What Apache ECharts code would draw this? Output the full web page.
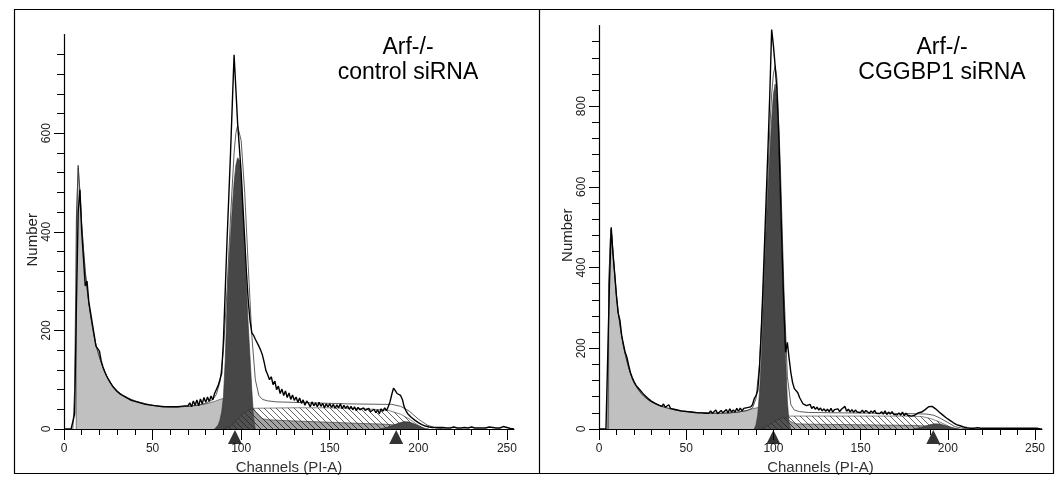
<!DOCTYPE html>
<html>
<head>
<meta charset="utf-8">
<script src="https://cdn.jsdelivr.net/npm/echarts@6/dist/echarts.min.js"></script>
<style>
  html, body { margin: 0; padding: 0; background: #fff; }
  #chart { width: 1064px; height: 483px; }
</style>
</head>
<body>
<div id="chart"></div>
<script>
// ---- tick labels ----
const xTickLabels = [0, 50, 100, 150, 200, 250];
const ctrlYLabels = [0, 200, 400, 600];
const kdYLabels = [0, 200, 400, 600, 800];

// ---- Arf-/- control siRNA : raw histogram, one value per channel (0..254) ----
const ctrlCounts = [
  0, 0, 0, 0, 0, 3, 30, 250, 440, 485,
  400, 345, 290, 300, 258, 236, 214, 192, 168, 165,
  158, 138, 126, 116, 108, 101, 95, 89, 84, 80,
  76, 73, 70, 68, 66, 64, 62, 60, 58, 57,
  56, 55, 54, 53, 52, 51, 50, 49, 49, 48,
  48, 47, 47, 46, 46, 46, 45, 45, 45, 45,
  45, 45, 45, 45, 45, 45, 46, 46, 47, 48,
  47, 53, 45, 57, 48, 59, 47, 61, 51, 64,
  54, 65, 56, 67, 59, 72, 76, 88, 100, 113,
  180, 280, 380, 470, 560, 660, 759, 690, 620, 570,
  520, 450, 385, 316, 260, 220, 195, 190, 182, 178,
  168, 160, 150, 135, 118, 110, 100, 106, 90, 97,
  80, 87, 72, 81, 68, 77, 64, 73, 60, 69,
  58, 65, 54, 63, 52, 59, 48, 57, 52, 45,
  55, 47, 53, 45, 54, 46, 52, 43, 51, 45,
  51, 44, 50, 42, 49, 43, 51, 41, 48, 42,
  47, 40, 46, 39, 45, 37, 44, 39, 35, 43,
  38, 34, 42, 35, 32, 40, 33, 39, 31, 41,
  36, 43, 37, 45, 55, 70, 83, 78, 72, 74,
  68, 60, 45, 37, 31, 28, 24, 21, 18, 16,
  13, 11, 9, 8, 6, 5, 4, 4, 3, 3,
  3, 2, 3, 2, 3, 2, 2, 3, 2, 2,
  4, 2, 2, 3, 2, 2, 3, 2, 2, 3,
  4, 2, 2, 3, 2, 2, 2, 3, 2, 2,
  4, 2, 3, 2, 2, 3, 2, 2, 5, 2,
  3, 2, 1, 0, 0
];
const ctrlFit = [[5, 0], [6, 80], [7, 420], [8, 535], [9, 480], [10, 415], [11, 365], [12, 320], [13, 285], [14, 255], [15, 230], [16, 208], [17, 188], [18, 172], [19, 158], [20, 146], [22, 124], [24, 108], [26, 95], [28, 85], [30, 77], [33, 69], [36, 63], [40, 57], [45, 52], [50, 48], [55, 46], [60, 45], [65, 45], [70, 46], [75, 48], [80, 52], [84, 60], [86, 70], [88, 95], [90, 160], [92, 280], [94, 430], [96, 560], [97, 600], [98, 615], [99, 612], [100, 585], [102, 480], [104, 330], [106, 190], [108, 100], [110, 68], [112, 60], [115, 57], [120, 55], [140, 53], [160, 51], [180, 50], [185, 50], [190, 46], [195, 36], [200, 20], [205, 8], [210, 2], [215, 0]];
const ctrlDebris = [[6.9, 0], [7, 430], [8, 530], [9, 480], [10, 415], [11, 365], [12, 320], [13, 285], [14, 255], [15, 230], [16, 208], [17, 188], [18, 172], [19, 158], [20, 146], [22, 124], [24, 108], [26, 95], [28, 85], [30, 77], [33, 69], [36, 63], [40, 57], [45, 52], [50, 48], [55, 46], [60, 45], [65, 45], [70, 46], [75, 48], [80, 51], [85, 56], [88, 60], [92, 64], [92.1, 0]];
const ctrlG1 = [[85, 0], [86, 3], [87, 8], [88, 18], [89, 35], [90, 66], [91, 140], [92, 250], [93, 330], [94, 390], [95, 450], [96, 500], [97, 535], [98, 550], [99, 545], [100, 510], [101, 445], [102, 360], [103, 284], [104, 210], [105, 146], [106, 80], [107, 25], [108, 0]];
const ctrlS = [[95, 0], [98, 8], [101, 20], [104, 34], [107, 42], [130, 43], [150, 43], [170, 41], [183, 38], [190, 30], [195, 20], [199, 10], [202, 3], [204, 0]];
const ctrlAgg = [[90, 0], [93, 4], [96, 12], [99, 24], [102, 34], [105, 40], [107, 41], [108, 36], [110, 26], [112, 21], [115, 19], [125, 17], [140, 15], [155, 13], [170, 11], [180, 10], [188, 8], [195, 5], [200, 2], [204, 0]];
const ctrlG2 = [[178, 0], [182, 3], [186, 8], [189, 12], [192, 15], [195, 14], [198, 10], [201, 5], [204, 1], [206, 0]];
const ctrlPeaks = [96.5, 187.5];

// ---- Arf-/- CGGBP1 siRNA ----
const kdCounts = [
  0, 0, 0, 0, 0, 0, 360, 500, 435, 385,
  330, 287, 270, 232, 210, 190, 178, 158, 140, 128,
  118, 110, 104, 99, 94, 89, 84, 80, 76, 72,
  69, 66, 64, 62, 60, 58, 56, 62, 54, 53,
  60, 51, 50, 49, 48, 47, 46, 45, 44, 44,
  43, 43, 42, 42, 41, 41, 40, 40, 40, 40,
  40, 39, 39, 39, 45, 39, 39, 47, 38, 40,
  46, 40, 41, 48, 40, 50, 42, 47, 42, 51,
  44, 52, 45, 51, 47, 53, 50, 55, 60, 75,
  82, 95, 150, 240, 350, 470, 590, 710, 840, 990,
  950, 900, 840, 740, 590, 440, 300, 190, 215, 175,
  140, 115, 100, 98, 90, 78, 70, 62, 66, 58,
  56, 61, 51, 56, 49, 54, 47, 52, 45, 50,
  44, 49, 43, 51, 42, 48, 44, 50, 43, 49,
  45, 56, 44, 49, 42, 48, 41, 47, 42, 46,
  41, 47, 40, 46, 42, 39, 45, 40, 46, 39,
  43, 38, 43, 37, 45, 36, 42, 37, 43, 36,
  40, 35, 40, 34, 42, 33, 39, 34, 38, 32,
  36, 34, 38, 40, 38, 42, 45, 48, 52, 55,
  57, 56, 53, 50, 46, 42, 39, 35, 31, 28,
  26, 22, 19, 16, 14, 11, 9, 8, 6, 5,
  4, 3, 3, 2, 3, 2, 2, 3, 2, 2,
  3, 2, 2, 2, 3, 2, 2, 2, 3, 2,
  2, 2, 3, 2, 2, 2, 3, 2, 2, 2,
  3, 2, 2, 2, 3, 2, 2, 2, 3, 2,
  2, 2, 1, 0, 0
];
const kdFit = [[5, 0], [5.6, 360], [6.5, 470], [7, 495], [8, 440], [9, 383], [10, 331], [11, 290], [12, 258], [13, 230], [14, 206], [15, 186], [16, 168], [17, 152], [18, 138], [19, 126], [20, 116], [22, 101], [24, 89], [26, 80], [28, 73], [30, 67], [33, 61], [36, 56], [40, 51], [45, 46], [50, 43], [55, 41], [60, 40], [65, 39], [70, 39], [75, 40], [80, 42], [85, 46], [88, 52], [90, 75], [92, 160], [94, 330], [96, 540], [98, 750], [99, 830], [100, 880], [101, 900], [102, 870], [104, 650], [106, 350], [108, 130], [110, 60], [112, 47], [115, 43], [120, 41], [140, 40], [160, 39], [180, 38], [188, 37], [192, 34], [196, 26], [200, 16], [204, 6], [208, 2], [212, 0]];
const kdDebris = [[5.5, 0], [5.6, 360], [6.5, 470], [7, 495], [8, 440], [9, 383], [10, 331], [11, 290], [12, 258], [13, 230], [14, 206], [15, 186], [16, 168], [17, 152], [18, 138], [19, 126], [20, 116], [22, 101], [24, 89], [26, 80], [28, 73], [30, 67], [33, 61], [36, 56], [40, 51], [45, 46], [50, 43], [55, 41], [60, 40], [65, 39], [70, 39], [75, 40], [80, 42], [85, 46], [88, 50], [92, 54], [92.1, 0]];
const kdG1 = [[89, 0], [90, 10], [91, 35], [92, 90], [93, 170], [94, 290], [95, 400], [96, 510], [97, 600], [98, 690], [99, 770], [100, 830], [101, 855], [102, 820], [103, 720], [104, 560], [105, 420], [106, 300], [107, 180], [108, 70], [109, 15], [110, 0]];
const kdS = [[96, 0], [99, 8], [102, 18], [105, 27], [108, 32], [150, 32], [175, 32], [185, 31], [190, 26], [195, 18], [199, 10], [202, 4], [205, 0]];
const kdAgg = [[92, 0], [95, 4], [98, 12], [101, 20], [104, 26], [106, 28], [108, 26], [110, 18], [113, 13], [120, 12], [140, 11], [160, 10], [180, 9], [190, 7], [197, 4], [203, 1], [206, 0]];
const kdG2 = [[180, 0], [184, 3], [187, 7], [190, 11], [193, 13], [196, 12], [199, 8], [202, 4], [205, 1], [207, 0]];
const kdPeaks = [100, 191.7];

const FONT = 'Liberation Sans, Arial, Helvetica, sans-serif';

function steps(step, max) {
  const out = [];
  for (let v = step; v <= max; v += step) out.push(v);
  return out;
}

function hatch(bg) {
  const c = document.createElement('canvas');
  c.width = 6; c.height = 6;
  const g = c.getContext('2d');
  g.fillStyle = bg;
  g.fillRect(0, 0, 6, 6);
  g.strokeStyle = '#222';
  g.lineWidth = 0.7;
  g.beginPath();
  g.moveTo(0, 0); g.lineTo(6, 6);
  g.moveTo(-1, 5); g.lineTo(1, 7);
  g.moveTo(5, -1); g.lineTo(7, 1);
  g.stroke();
  return { image: c, repeat: 'repeat' };
}

function xAxes(grid) {
  return [{
    type: 'value', gridIndex: grid, min: 0, max: 254, position: 'bottom',
    name: 'Channels (PI-A)', nameLocation: 'middle', nameGap: 20,
    nameTextStyle: { fontSize: 15, color: '#333', fontFamily: FONT },
    axisLine: { show: true, onZero: false, lineStyle: { color: '#000', width: 1.2 } },
    axisTick: { show: true, length: 11, customValues: xTickLabels, lineStyle: { color: '#000', width: 1 } },
    axisLabel: { show: true, customValues: xTickLabels, margin: 14, fontSize: 12, color: '#222', fontFamily: FONT },
    splitLine: { show: false }
  }, {
    type: 'value', gridIndex: grid, min: 0, max: 254, position: 'bottom',
    axisLine: { show: false, onZero: false },
    axisTick: { show: true, length: 6, customValues: steps(10, 250), lineStyle: { color: '#000', width: 1 } },
    axisLabel: { show: false },
    splitLine: { show: false }
  }];
}

function yAxes(grid, max, labels) {
  return [{
    type: 'value', gridIndex: grid, min: 0, max: max, position: 'left',
    name: 'Number', nameLocation: 'middle', nameGap: 22,
    nameTextStyle: { fontSize: 15, color: '#222', fontFamily: FONT, padding: [0, 16, 0, 0] },
    axisLine: { show: true, onZero: false, lineStyle: { color: '#000', width: 1.2 } },
    axisTick: { show: true, length: 10, customValues: labels, lineStyle: { color: '#000', width: 1 } },
    axisLabel: { show: true, customValues: labels, rotate: 90, margin: 11, fontSize: 12, color: '#222', fontFamily: FONT },
    splitLine: { show: false }
  }, {
    type: 'value', gridIndex: grid, min: 0, max: max, position: 'left',
    axisLine: { show: false, onZero: false },
    axisTick: { show: true, length: 7, customValues: steps(40, max - 40), lineStyle: { color: '#000', width: 1 } },
    axisLabel: { show: false },
    splitLine: { show: false }
  }];
}

function area(data, xi, yi, fill, z) {
  return {
    type: 'line', xAxisIndex: xi, yAxisIndex: yi, data: data, z: z,
    symbol: 'none', silent: true,
    lineStyle: { color: '#333', width: 0.6 },
    areaStyle: { color: fill, opacity: 1 }
  };
}

function panelSeries(p, xi, yi) {
  return [
    area(p.debris, xi, yi, '#c0c0c0', 2),
    area(p.s, xi, yi, hatch('#ffffff'), 3),
    area(p.g1, xi, yi, '#474747', 4),
    area(p.agg, xi, yi, hatch('rgba(90,90,90,0.55)'), 5),
    area(p.g2, xi, yi, '#474747', 6),
    {
      type: 'line', xAxisIndex: xi, yAxisIndex: yi, data: p.fit, z: 7,
      symbol: 'none', silent: true,
      lineStyle: { color: '#333', width: 0.8 }
    },
    {
      type: 'line', xAxisIndex: xi, yAxisIndex: yi, z: 8,
      data: p.counts.map((v, i) => [i, v]),
      symbol: 'none', silent: true,
      lineStyle: { color: '#000', width: 1.4 }
    },
    {
      type: 'scatter', xAxisIndex: xi, yAxisIndex: yi, z: 9, clip: false,
      data: p.peaks.map(c => [c, 0]),
      symbol: 'triangle', symbolSize: [14, 14], symbolOffset: [0, 8],
      itemStyle: { color: '#000' }, silent: true
    }
  ];
}

function titleText(x, lines) {
  return lines.map((t, i) => ({
    type: 'text', x: x, y: 48 + i * 25, z: 100,
    style: { text: t, fontSize: 23, fontFamily: FONT, fill: '#000', align: 'center', verticalAlign: 'middle' }
  }));
}

const chart = echarts.init(document.getElementById('chart'));

const option = {
  animation: false,
  backgroundColor: '#fff',
  grid: [
    { left: 64, top: 34.6, width: 450, height: 394.4, outerBoundsMode: 'none', containLabel: false },
    { left: 599, top: 25.5, width: 443, height: 403.5, outerBoundsMode: 'none', containLabel: false }
  ],
  xAxis: xAxes(0).concat(xAxes(1)),
  yAxis: yAxes(0, 800, ctrlYLabels).concat(yAxes(1, 1000, kdYLabels)),
  series: panelSeries({
    counts: ctrlCounts, fit: ctrlFit, debris: ctrlDebris, g1: ctrlG1,
    s: ctrlS, agg: ctrlAgg, g2: ctrlG2, peaks: ctrlPeaks
  }, 0, 0).concat(panelSeries({
    counts: kdCounts, fit: kdFit, debris: kdDebris, g1: kdG1,
    s: kdS, agg: kdAgg, g2: kdG2, peaks: kdPeaks
  }, 2, 2)),
  graphic: [
    {
      type: 'rect', z: 100, silent: true,
      shape: { x: 14.5, y: 9.5, width: 1039, height: 464 },
      style: { fill: 'none', stroke: '#000', lineWidth: 1.2 }
    },
    {
      type: 'line', z: 100, silent: true,
      shape: { x1: 539.5, y1: 9.5, x2: 539.5, y2: 473.5 },
      style: { stroke: '#000', lineWidth: 1.2 }
    }
  ].concat(titleText(408, ['Arf-/-', 'control siRNA']))
   .concat(titleText(942, ['Arf-/-', 'CGGBP1 siRNA']))
};

chart.setOption(option);

window.addEventListener('resize', () => {
  chart.resize();
});
</script>
</body>
</html>
